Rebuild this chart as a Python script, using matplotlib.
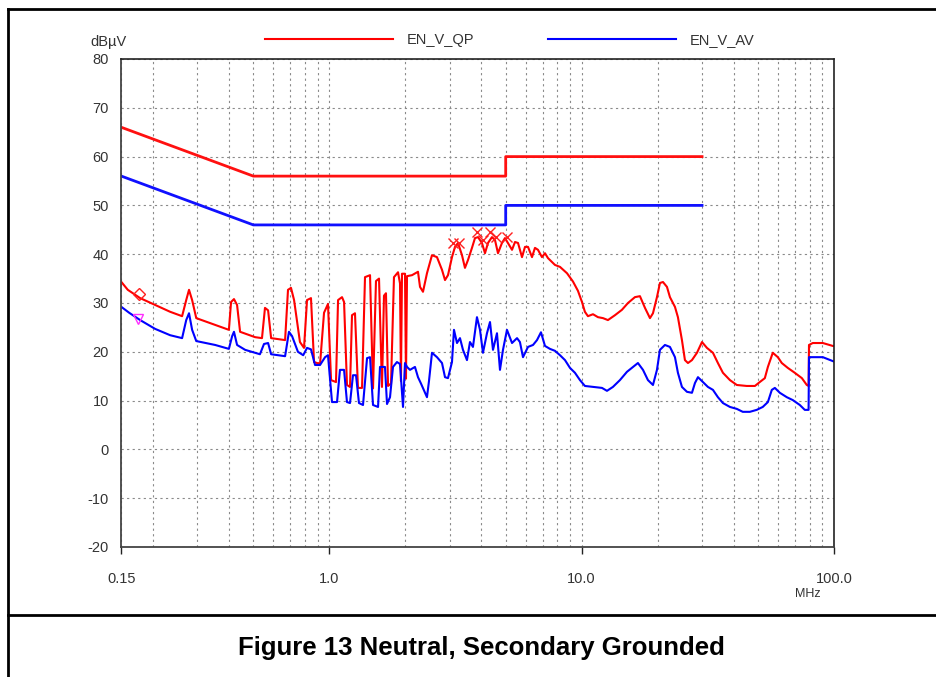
import matplotlib
matplotlib.use("Agg")
import matplotlib.pyplot as plt
from matplotlib.lines import Line2D
from matplotlib.ticker import FixedLocator, LogLocator, NullFormatter

plt.rcParams['font.family'] = ['Liberation Sans', 'DejaVu Sans']
plt.rcParams['axes.unicode_minus'] = False

# limit lines (EN55022 class B, neutral)
lim_freq = [0.15, 0.5, 5.0, 5.0, 30.0]
qp_limit = [66, 56, 56, 60, 60]
av_limit = [56, 46, 46, 50, 50]

# quasi-peak trace, MHz / dBuV
qp_freq = [0.150, 0.159, 0.178, 0.204, 0.234, 0.261, 0.271, 0.278, 0.286, 0.297,
           0.353, 0.400, 0.408, 0.419, 0.431, 0.443, 0.508, 0.541, 0.556, 0.572,
           0.588, 0.668, 0.686, 0.705, 0.725, 0.765, 0.794, 0.816, 0.846, 0.870,
           0.919, 0.953, 0.988, 1.016, 1.063, 1.083, 1.123, 1.144, 1.175, 1.208,
           1.230, 1.264, 1.299, 1.348, 1.385, 1.450, 1.490, 1.531, 1.574, 1.617,
           1.647, 1.677, 1.709, 1.756, 1.804, 1.872, 1.906, 1.923, 1.941, 1.995,
           2.013, 2.032, 2.126, 2.246, 2.288, 2.351, 2.438, 2.552, 2.671, 2.796,
           2.874, 2.953, 3.063, 3.148, 3.236, 3.356, 3.448, 3.544, 3.676, 3.778,
           3.883, 4.027, 4.139, 4.254, 4.412, 4.535, 4.660, 4.833, 4.968, 5.105,
           5.297, 5.444, 5.595, 5.802, 5.963, 6.129, 6.357, 6.531, 6.713, 6.962,
           7.156, 7.354, 7.628, 7.839, 8.206, 8.748, 9.238, 9.667, 10.03, 10.30,
           10.59, 11.09, 11.60, 12.15, 12.71, 13.55, 14.44, 15.26, 16.26, 17.02,
           17.82, 18.65, 19.17, 19.88, 20.43, 21.00, 21.78, 22.38, 23.43, 24.07,
           24.97, 25.66, 26.38, 27.36, 28.64, 29.98, 31.37, 33.13, 34.67, 36.29,
           38.69, 41.2, 45.1, 48.6, 50.8, 53.2, 54.7, 57.2, 59.9, 62.1,
           65.6, 69.9, 74.6, 78.0, 79.3, 79.6, 82.4, 90.3, 98.9, 100.0]
qp_level = [34.3, 32.7, 31.0, 29.6, 28.2, 27.3, 30.6, 32.7, 30.6, 26.9,
            25.5, 24.5, 30.2, 30.8, 29.6, 24.1, 23.0, 22.8, 29.0, 28.5,
            22.8, 22.4, 32.7, 33.1, 30.6, 22.0, 20.8, 30.6, 31.0, 17.9,
            17.5, 28.0, 29.8, 14.2, 13.8, 30.6, 31.2, 30.2, 13.2, 12.8,
            27.5, 27.9, 12.6, 12.6, 35.3, 35.7, 12.5, 34.5, 35.0, 12.8,
            31.5, 32.0, 13.0, 13.5, 35.3, 36.3, 34.0, 14.0, 36.0, 36.0,
            14.5, 35.5, 35.7, 36.4, 33.3, 32.3, 36.1, 39.8, 39.4, 36.8,
            34.7, 35.7, 39.4, 41.5, 42.3, 39.8, 37.2, 38.8, 41.3, 43.3,
            43.5, 42.3, 40.2, 42.3, 43.5, 42.9, 40.2, 42.3, 43.3, 42.3,
            40.9, 42.5, 42.3, 39.4, 41.5, 41.5, 39.4, 41.3, 40.9, 39.4,
            40.2, 39.2, 38.4, 37.8, 37.4, 36.1, 34.4, 32.5, 30.2, 28.2,
            27.3, 27.7, 27.1, 26.9, 26.5, 27.5, 28.6, 30.0, 31.2, 31.4,
            29.0, 26.9, 27.9, 31.2, 34.1, 34.3, 33.3, 31.2, 29.2, 27.1,
            22.4, 18.3, 17.7, 18.3, 19.8, 22.0, 20.8, 19.8, 17.7, 15.7,
            14.2, 13.2, 13.0, 13.0, 13.8, 14.6, 16.9, 19.8, 18.9, 17.7,
            16.7, 15.7, 14.6, 13.2, 13.0, 21.4, 21.8, 21.8, 21.2, 21.2]

# average trace, MHz / dBuV
av_freq = [0.150, 0.161, 0.178, 0.204, 0.234, 0.261, 0.271, 0.278, 0.286, 0.297,
           0.353, 0.400, 0.412, 0.419, 0.431, 0.464, 0.531, 0.551, 0.572, 0.588,
           0.668, 0.692, 0.712, 0.751, 0.788, 0.816, 0.846, 0.878, 0.919, 0.962,
           0.988, 1.025, 1.073, 1.102, 1.144, 1.175, 1.208, 1.241, 1.276, 1.311,
           1.360, 1.411, 1.450, 1.490, 1.560, 1.588, 1.662, 1.693, 1.740, 1.788,
           1.854, 1.906, 1.959, 1.995, 2.032, 2.088, 2.185, 2.246, 2.308, 2.438,
           2.483, 2.552, 2.671, 2.796, 2.874, 2.953, 3.063, 3.119, 3.206, 3.295,
           3.386, 3.512, 3.609, 3.709, 3.847, 3.955, 4.064, 4.215, 4.333, 4.453,
           4.618, 4.746, 4.878, 5.059, 5.297, 5.545, 5.694, 5.855, 6.129, 6.416,
           6.653, 6.899, 7.156, 7.489, 7.839, 8.206, 8.589, 8.990, 9.407, 9.847,
           10.30, 11.09, 12.04, 12.60, 13.30, 14.18, 15.12, 15.97, 16.71, 17.50,
           18.31, 19.17, 19.88, 20.43, 21.38, 22.38, 23.43, 24.07, 24.97, 26.14,
           27.36, 28.12, 28.90, 30.25, 31.65, 33.13, 34.67, 36.29, 38.69, 41.2,
           43.5, 46.4, 49.4, 52.2, 54.7, 56.7, 58.3, 61.0, 65.0, 68.7,
           73.2, 76.6, 79.3, 79.6, 90.3, 98.9, 100.0]
av_level = [29.2, 28.0, 26.5, 24.7, 23.4, 22.8, 26.5, 27.9, 24.5, 22.2,
            21.4, 20.6, 23.2, 24.1, 21.4, 20.4, 19.5, 21.6, 21.8, 19.5,
            19.1, 24.1, 23.2, 20.0, 19.3, 20.8, 20.5, 17.3, 17.3, 18.9,
            19.3, 9.7, 9.7, 16.3, 16.3, 9.7, 9.5, 15.2, 15.2, 9.5,
            9.1, 18.7, 18.9, 9.1, 8.7, 16.9, 16.9, 9.3, 10.7, 16.9,
            17.9, 17.5, 8.7, 17.7, 16.9, 16.3, 16.9, 14.8, 13.5, 10.7,
            14.0, 19.8, 18.9, 17.7, 14.8, 14.6, 17.9, 24.5, 21.8, 22.8,
            20.4, 18.3, 22.0, 21.0, 27.1, 24.5, 19.8, 23.8, 26.1, 20.4,
            23.8, 16.3, 20.4, 24.5, 21.8, 22.8, 22.0, 18.9, 21.0, 21.4,
            22.4, 24.0, 21.2, 20.6, 20.2, 19.3, 18.3, 16.7, 15.7, 14.2,
            13.0, 12.8, 12.6, 12.0, 12.8, 14.2, 15.9, 16.9, 17.7, 16.3,
            14.2, 13.2, 16.3, 20.4, 21.4, 21.0, 18.9, 15.7, 12.8, 11.8,
            11.6, 13.6, 14.8, 13.8, 12.8, 12.2, 10.7, 9.5, 8.7, 8.3,
            7.7, 7.7, 8.1, 8.7, 9.7, 12.2, 12.6, 11.6, 10.7, 10.1,
            9.1, 8.1, 8.1, 18.9, 18.9, 18.1, 18.0]

# peak markers
qp_peak_freq = [3.09, 3.27, 3.85, 4.06, 4.33, 4.58, 5.06]
qp_peak_level = [42.3, 42.3, 44.5, 42.9, 44.5, 43.5, 43.5]
qp_mark = (0.176, 31.8)
av_mark = (0.174, 26.7)

x_ticks = [0.15, 1.0, 10.0, 100.0]
x_labels = ['0.15', '1.0', '10.0', '100.0']
y_ticks = list(range(-20, 81, 10))

fig = plt.figure(figsize=(9.36, 6.77), dpi=100)
ax = fig.add_axes([121.4 / 936, 1 - 547 / 677, (834 - 121.4) / 936, 488 / 677])

ax.plot(lim_freq, qp_limit, color='#ff1010', lw=2)
ax.plot(lim_freq, av_limit, color='#1010ff', lw=2)
ax.plot(qp_freq, qp_level, color='#ff0000', lw=1.5, label='EN_V_QP')
ax.plot(av_freq, av_level, color='#0000ff', lw=1.5, label='EN_V_AV')
ax.plot(qp_peak_freq, qp_peak_level, ls='none', marker='x', color='#ff2020', ms=7, mew=1)
ax.plot([qp_mark[0]], [qp_mark[1]], ls='none', marker='D', mfc='none', mec='#ff2020', ms=6, mew=1)
ax.plot([av_mark[0]], [av_mark[1]], ls='none', marker='v', mfc='none', mec='#ff30ff', ms=7, mew=1)

ax.set_xscale('log')
ax.set_xlim(0.15, 100)
ax.set_ylim(-20, 80)
ax.xaxis.set_major_locator(FixedLocator(x_ticks))
ax.set_xticklabels(x_labels)
ax.xaxis.set_minor_locator(LogLocator(base=10, subs=[2, 3, 4, 5, 6, 7, 8, 9]))
ax.xaxis.set_minor_formatter(NullFormatter())
ax.set_yticks(y_ticks)

ax.tick_params(axis='x', which='major', length=5, width=1, color='#222222', pad=13,
               labelsize=10.5, labelcolor='#333333')
ax.tick_params(axis='x', which='minor', length=0)
ax.tick_params(axis='y', length=0, pad=9, labelsize=10.5, labelcolor='#333333')

ax.grid(True, which='both', axis='x', ls=(0, (2, 3)), color='#8a8a8a', lw=0.8)
ax.grid(True, which='major', axis='y', ls=(0, (2, 3)), color='#8a8a8a', lw=0.8)

for side in ['left', 'bottom']:
    ax.spines[side].set_color('#444444')
    ax.spines[side].set_linewidth(1.3)
for side in ['top', 'right']:
    ax.spines[side].set_color('#222222')
    ax.spines[side].set_linewidth(1.2)

ax.legend(loc='center left', bbox_to_anchor=(0.2015, 1.039), ncol=2, frameon=False,
          borderpad=0, borderaxespad=0, handlelength=8.8, handletextpad=0.95,
          columnspacing=5.0, fontsize=10.5, labelcolor='#333333')

fig.text(90 / 936, 1 - 42 / 677, 'dB\u00b5V', ha='left', va='center', fontsize=10.5, color='#333333')
fig.text(808 / 936, 1 - 594 / 677, 'MHz', ha='center', va='center', fontsize=9, color='#333333')

# page frame around the figure
fig.add_artist(Line2D([8 / 936, 8 / 936], [0, 1 - 9 / 677], transform=fig.transFigure, color='black', lw=2))
fig.add_artist(Line2D([8 / 936, 1], [1 - 9 / 677, 1 - 9 / 677], transform=fig.transFigure, color='black', lw=2))
fig.add_artist(Line2D([8 / 936, 1], [1 - 615 / 677, 1 - 615 / 677], transform=fig.transFigure, color='black', lw=2))

fig.text(481 / 936, 1 - 648 / 677, 'Figure 13 Neutral, Secondary Grounded', ha='center', va='center',
         fontsize=18.5, fontweight='bold', color='black')

fig.savefig('out.png', dpi=100)
